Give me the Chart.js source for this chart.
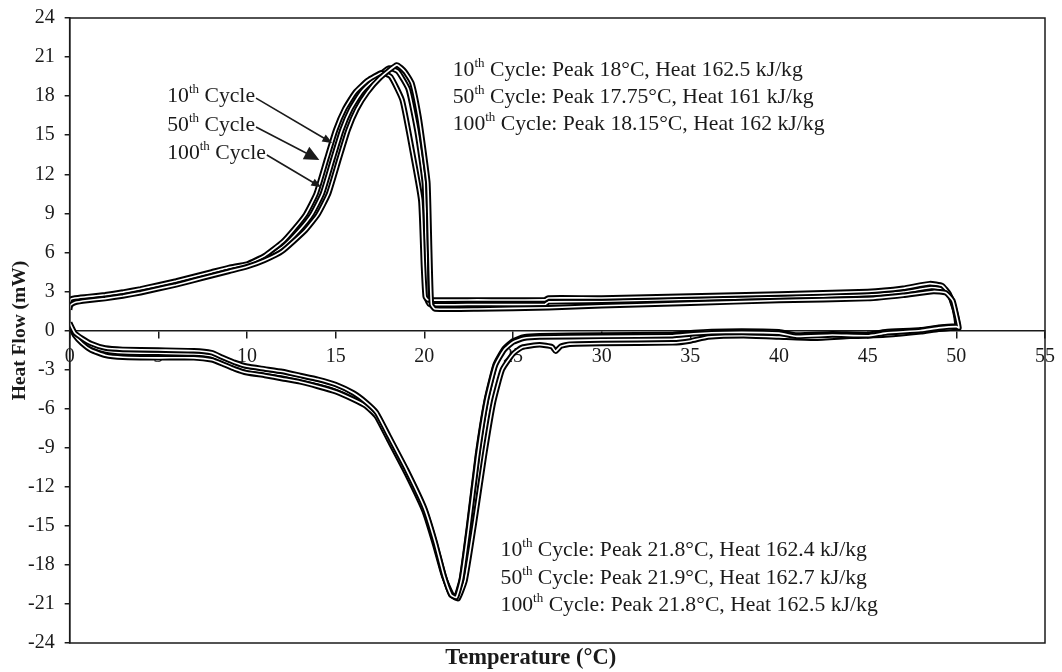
<!DOCTYPE html>
<html lang="en">
<head>
<meta charset="UTF-8" />
<title>DSC Heat Flow</title>
<script src="https://cdn.jsdelivr.net/npm/chart.js@4.4.0/dist/chart.umd.min.js"></script>
<style>
  html, body { margin: 0; padding: 0; background: #fff; }
</style>
</head>
<body>
<canvas id="chart" width="1062" height="672"></canvas>
<script>
// cycles shown
const cycles = ['10', '50', '100']

// heating runs (lower, endothermic) - temperature (C) and heat flow (mW)
const heat10T = [0, 0.3, 0.7, 1.2, 2, 3, 5, 7, 8, 8.6, 9.3, 10, 11, 12, 13, 14, 15, 16, 16.7, 17.3, 18, 19, 20, 20.6, 21.1, 21.5, 21.8, 22.1, 22.5, 23, 23.5, 24, 24.5, 25, 25.6, 26.5, 30, 34, 35.2, 37, 40, 41, 43, 45, 46, 48, 49, 50]
const heat10Q = [0.5, -0.3, -0.8, -1.2, -1.55, -1.7, -1.75, -1.8, -1.95, -2.3, -2.7, -3.0, -3.2, -3.4, -3.7, -4.0, -4.4, -5.0, -5.6, -6.4, -8.2, -10.8, -13.7, -16.3, -18.8, -20.3, -20.4, -19.0, -15.0, -9.5, -5.3, -2.6, -1.4, -0.8, -0.5, -0.4, -0.35, -0.3, -0.15, -0.05, -0.1, -0.35, -0.25, -0.3, -0.1, 0.05, 0.25, 0.35]
const heat50T = [0, 0.3, 0.7, 1.2, 2, 3, 5, 7, 8, 8.6, 9.3, 10, 11, 12, 13, 14, 15, 16, 16.7, 17.3, 18, 19, 20, 20.6, 21.1, 21.6, 21.9, 22.3, 22.8, 23.4, 23.9, 24.4, 25, 25.5, 26.5, 27.2, 27.4, 27.7, 28.2, 30, 34, 35, 36, 38, 40, 42, 44, 46, 48, 49, 50]
const heat50Q = [0.4, -0.4, -1.0, -1.5, -1.9, -2.05, -2.1, -2.1, -2.25, -2.55, -2.95, -3.25, -3.45, -3.7, -3.95, -4.3, -4.7, -5.3, -5.8, -6.6, -8.4, -11.0, -13.9, -16.5, -18.9, -20.4, -20.6, -19.2, -15.0, -9.5, -5.5, -3.0, -1.8, -1.3, -1.1, -1.25, -1.6, -1.2, -1.05, -1.0, -0.95, -0.8, -0.5, -0.4, -0.5, -0.6, -0.45, -0.35, -0.1, 0.1, 0.2]
const heat100T = heat10T
const heat100Q = [0.6, -0.2, -0.6, -1.0, -1.35, -1.45, -1.5, -1.55, -1.7, -2.05, -2.45, -2.75, -2.95, -3.15, -3.45, -3.75, -4.15, -4.8, -5.5, -6.3, -8.1, -10.7, -13.6, -16.2, -18.8, -20.3, -20.5, -19.1, -15.2, -9.7, -5.4, -2.7, -1.5, -0.9, -0.6, -0.5, -0.45, -0.4, -0.25, -0.15, -0.2, -0.45, -0.35, -0.4, -0.2, 0.0, 0.2, 0.3]

// cooling runs (upper, exothermic), listed by rising temperature
const cool10T = [0, 0.05, 0.3, 1, 2, 3, 4, 5, 6, 7, 8, 9, 10, 11, 12, 12.95, 13.65, 14.25, 14.85, 15.35, 15.85, 16.45, 17.2, 18, 18.5, 19.1, 19.6, 20, 20.1, 20.15, 20.3, 23, 26.8, 27, 30, 35, 40, 45, 47, 48.6, 49.3, 49.7, 49.95, 50.1]
const cool10Q = [1.8, 2.2, 2.35, 2.45, 2.6, 2.8, 3.05, 3.35, 3.65, 4.0, 4.35, 4.7, 5.0, 5.55, 6.4, 7.7, 8.9, 10.5, 13.2, 15.4, 17.0, 18.3, 19.3, 20.15, 19.9, 18.5, 15.2, 11.3, 6.0, 2.4, 2.0, 2.0, 2.0, 2.2, 2.25, 2.4, 2.55, 2.75, 2.95, 3.3, 3.15, 2.5, 1.4, 0.3]
const cool50T = [0, 0.05, 0.3, 1, 2, 3, 4, 5, 6, 7, 8, 9, 10, 11, 12, 12.6, 13.3, 13.9, 14.5, 15, 15.5, 16.1, 16.8, 17.6, 18.1, 18.75, 19.3, 19.8, 19.95, 20.05, 20.2, 23, 26.8, 27, 30, 35, 40, 45, 47, 48.5, 49.2, 49.6, 49.9, 50.05]
const cool50Q = [2.0, 2.4, 2.5, 2.6, 2.75, 2.95, 3.2, 3.5, 3.8, 4.15, 4.5, 4.85, 5.1, 5.75, 6.8, 7.7, 8.9, 10.5, 13.2, 15.4, 17.0, 18.3, 19.2, 19.8, 19.5, 17.7, 13.9, 10.0, 5.0, 2.6, 2.35, 2.35, 2.35, 2.5, 2.5, 2.65, 2.8, 3.0, 3.25, 3.6, 3.45, 2.8, 1.6, 0.3]
const cool100T = [0, 0.05, 0.3, 1, 2, 3, 4, 5, 6, 7, 8, 9, 10, 11, 12, 13.3, 14, 14.6, 15.2, 15.7, 16.2, 16.8, 17.5, 18.45, 18.9, 19.3, 19.7, 20.0, 20.2, 20.3, 20.4, 20.6, 23, 27, 30, 35, 40, 45, 47, 48.7, 49.4, 49.8, 50.0, 50.15]
const cool100Q = [1.6, 1.95, 2.15, 2.3, 2.45, 2.65, 2.9, 3.2, 3.5, 3.85, 4.2, 4.55, 4.9, 5.4, 6.1, 7.7, 8.9, 10.5, 13.2, 15.4, 17.0, 18.3, 19.4, 20.4, 19.9, 19.0, 16.4, 13.5, 11.3, 6.2, 2.0, 1.65, 1.65, 1.75, 1.9, 2.1, 2.3, 2.45, 2.7, 3.0, 2.9, 2.3, 1.2, 0.2]

// peak / enthalpy values from the annotations
const coolPeak = [18, 17.75, 18.15]
const coolHeat = [162.5, 161, 162]
const heatPeak = [21.8, 21.9, 21.8]
const heatHeat = [162.4, 162.7, 162.5]

const runs = [
  [heat10T, heat10Q, cool10T, cool10Q],
  [heat50T, heat50Q, cool50T, cool50Q],
  [heat100T, heat100Q, cool100T, cool100Q],
]

const serif = '"Liberation Serif", "Times New Roman", serif'
const ink = '#1a1a1a'

// heating up to 50C then cooling back down -> one loop per cycle
function loop(hT, hQ, cT, cQ) {
  const pts = hT.map((t, i) => ({ x: t, y: hQ[i] }))
  for (let i = cT.length - 1; i >= 0; i--) pts.push({ x: cT[i], y: cQ[i] })
  return pts
}

const datasets = []
runs.forEach((r, i) => {
  const pts = loop(...r)
  // drawn as a hollow "tube": thick black stroke with a thin white core
  datasets.push({ data: pts, showLine: true, borderColor: '#000', borderWidth: 5.5, pointRadius: 0, tension: 0.15, order: 10 - 2 * i })
  datasets.push({ data: pts, showLine: true, borderColor: '#fff', borderWidth: 1.6, pointRadius: 0, tension: 0.15, order: 9 - 2 * i })
})

function rich(ctx, parts, x, y, size) {
  // parts: [normal, superscript, normal, ...]
  let cx = x
  parts.forEach((p, k) => {
    const sup = k % 2 === 1
    ctx.font = (sup ? Math.round(size * 0.6) : size) + 'px ' + serif
    ctx.fillText(p, cx, sup ? y - size * 0.3 : y)
    cx += ctx.measureText(p).width
  })
  return cx
}

function arrow(ctx, x1, y1, x2, y2, len, wid) {
  const a = Math.atan2(y2 - y1, x2 - x1)
  ctx.beginPath()
  ctx.moveTo(x1, y1)
  ctx.lineTo(x2 - Math.cos(a) * len * 0.6, y2 - Math.sin(a) * len * 0.6)
  ctx.stroke()
  ctx.beginPath()
  ctx.moveTo(x2, y2)
  ctx.lineTo(x2 - len * Math.cos(a) + wid * Math.sin(a), y2 - len * Math.sin(a) - wid * Math.cos(a))
  ctx.lineTo(x2 - len * Math.cos(a) - wid * Math.sin(a), y2 - len * Math.sin(a) + wid * Math.cos(a))
  ctx.closePath()
  ctx.fill()
}

const notes = {
  id: 'notes',
  afterDraw(chart) {
    const { ctx, chartArea: a } = chart
    const x = chart.scales.x, y = chart.scales.y
    const o = chart.options.plugins.notes
    ctx.save()
    // frame
    ctx.strokeStyle = ink
    ctx.lineWidth = 1.5
    ctx.strokeRect(a.left, a.top, a.right - a.left, a.bottom - a.top)

    ctx.fillStyle = ink
    ctx.textBaseline = 'middle'
    ctx.textAlign = 'left'
    cycles.forEach((c, i) => {
      rich(ctx, [c, 'th', ' Cycle: Peak ' + coolPeak[i] + '°C, Heat ' + coolHeat[i] + ' kJ/kg'],
        x.getPixelForValue(o.coolText.x), y.getPixelForValue(o.coolText.y[i]), 21.7)
      rich(ctx, [c, 'th', ' Cycle: Peak ' + heatPeak[i] + '°C, Heat ' + heatHeat[i] + ' kJ/kg'],
        x.getPixelForValue(o.heatText.x), y.getPixelForValue(o.heatText.y[i]), 21.7)
      // cycle labels with arrows
      const ly = y.getPixelForValue(o.labels.y[i])
      const end = rich(ctx, [c, 'th', ' Cycle'], x.getPixelForValue(o.labels.x), ly, 21.7)
      ctx.strokeStyle = ink
      ctx.lineWidth = 1.6
      const big = i === 1
      arrow(ctx, end + 1, ly + 2, x.getPixelForValue(o.labels.tipX[i]), y.getPixelForValue(o.labels.tipY[i]), big ? 15 : 10, big ? 7 : 4)
    })

    // axis titles
    ctx.textAlign = 'center'
    ctx.font = 'bold 22.5px ' + serif
    ctx.fillText('Temperature (°C)', x.getPixelForValue(o.xTitle.x), a.bottom + 15)
    ctx.translate(o.yTitle.px, (a.top + a.bottom) / 2)
    ctx.rotate(-Math.PI / 2)
    ctx.font = 'bold 19.5px ' + serif
    ctx.fillText('Heat Flow (mW)', 0, 0)
    ctx.restore()
  }
}

new Chart(document.getElementById('chart'), {
  type: 'scatter',
  data: { datasets },
  plugins: [notes],
  options: {
    responsive: false,
    animation: false,
    layout: { padding: { left: 18, top: 0, right: 16, bottom: 29 } },
    plugins: {
      legend: { display: false },
      tooltip: { enabled: false },
      notes: {
        coolText: { x: 21.6, y: [20.0, 17.9, 15.85] },
        heatText: { x: 24.3, y: [-16.86, -19.0, -21.08] },
        labels: { x: 5.5, y: [18.0, 15.78, 13.63], tipX: [14.81, 14.08, 14.19], tipY: [14.4, 13.1, 11.0] },
        xTitle: { x: 26.0 },
        yTitle: { px: 20 },
      },
    },
    scales: {
      x: {
        type: 'linear',
        min: 0,
        max: 55,
        position: { y: 0 },
        ticks: { stepSize: 5, color: ink, font: { family: serif, size: 20 }, padding: 7 },
        grid: { drawOnChartArea: false, tickLength: 7, color: ink, lineWidth: 1.5 },
        border: { color: ink, width: 1.5 },
      },
      y: {
        type: 'linear',
        min: -24,
        max: 24,
        ticks: { stepSize: 3, color: ink, font: { family: serif, size: 20, lineHeight: 0.8 }, padding: 10 },
        grid: { drawOnChartArea: false, tickLength: 5, color: ink, lineWidth: 1.5 },
        border: { color: ink, width: 1.5 },
      },
    },
  },
})
</script>
</body>
</html>
